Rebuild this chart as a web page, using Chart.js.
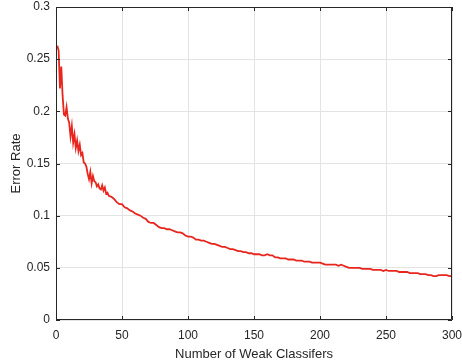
<!DOCTYPE html>
<html>
<head>
<meta charset="utf-8">
<script src="https://cdn.jsdelivr.net/npm/chart.js@4/dist/chart.umd.min.js"></script>
<style>
html,body{margin:0;padding:0;background:#fff;}
#wrap{width:462px;height:362px;}
</style>
</head>
<body>
<div id="wrap"><canvas id="c" width="462" height="362"></canvas></div>
<script>
const weakClassifiers = [1,2,3,4,5,6,7,8,9,10,11,12,13,14,15,16,17,18,19,20,21,22,23,24,25,26,27,28,29,30,31,32,33,34,35,36,37,38,39,40,
42,44,46,48,50,52,54,56,58,60,62,64,66,68,70,72,74,76,78,80,82,84,86,88,90,92,94,96,98,100,
102,104,106,108,110,112,114,116,118,120,122,124,126,128,130,132,134,136,138,140,142,144,146,148,150,
152,154,156,158,160,162,164,166,168,170,172,174,176,178,180,182,184,186,188,190,192,194,196,198,200,
202,204,206,208,210,212,214,216,218,220,222,224,226,228,230,232,234,236,238,240,242,244,246,248,250,
252,254,256,258,260,262,264,266,268,270,272,274,276,278,280,282,284,286,288,290,292,294,296,298,300];
const errorRate = [0.263,0.258,0.222,0.243,0.215,0.197,0.196,0.204,0.193,0.189,0.176,0.186,0.170,0.178,0.165,0.172,0.162,0.168,0.158,0.160,
0.151,0.150,0.147,0.140,0.135,0.142,0.131,0.138,0.133,0.132,0.128,0.130,0.126,0.125,0.129,0.124,0.127,0.121,0.122,0.119,
0.118,0.116,0.113,0.111,0.111,0.108,0.107,0.105,0.104,0.102,0.101,0.100,0.098,0.097,0.094,0.093,0.093,0.091,0.089,0.088,
0.088,0.087,0.087,0.086,0.085,0.084,0.084,0.083,0.081,0.080,
0.080,0.079,0.077,0.077,0.076,0.076,0.075,0.074,0.073,0.073,0.072,0.071,0.070,0.070,0.069,0.068,0.068,0.067,0.066,0.066,0.065,0.065,0.064,0.064,0.063,
0.063,0.063,0.062,0.062,0.063,0.062,0.062,0.060,0.060,0.059,0.059,0.059,0.058,0.058,0.058,0.057,0.057,0.057,0.056,0.056,0.056,0.055,0.055,0.055,0.055,
0.054,0.053,0.053,0.053,0.053,0.053,0.052,0.053,0.052,0.051,0.050,0.050,0.050,0.050,0.050,0.049,0.049,0.049,0.049,0.048,0.048,0.048,0.048,0.047,0.048,
0.047,0.047,0.047,0.047,0.046,0.046,0.046,0.046,0.045,0.045,0.045,0.045,0.044,0.044,0.044,0.043,0.043,0.042,0.042,0.043,0.043,0.043,0.043,0.042,0.042];
const xTickStep = 50;
const yTickStep = 0.05;

const points = weakClassifiers.map((x, i) => ({x: x, y: errorRate[i]}));
const FONT = "'Liberation Sans', Arial, Helvetica, sans-serif";
const AX = '#262626';

const boxTicks = {
  id: 'boxTicks',
  afterDraw(chart) {
    const {ctx, chartArea: a, scales} = chart;
    ctx.save();
    ctx.strokeStyle = AX;
    ctx.lineWidth = 1;
    ctx.beginPath();
    ctx.rect(a.left + 0.5, a.top + 0.5, a.right - a.left - 1, a.bottom - a.top - 1);
    ctx.stroke();
    const L = 4;
    ctx.beginPath();
    scales.x.ticks.forEach(t => {
      const px = Math.round(scales.x.getPixelForValue(t.value)) + 0.5;
      ctx.moveTo(px, a.bottom); ctx.lineTo(px, a.bottom - L);
      ctx.moveTo(px, a.top); ctx.lineTo(px, a.top + L);
    });
    scales.y.ticks.forEach(t => {
      const py = Math.round(scales.y.getPixelForValue(t.value)) + 0.5;
      ctx.moveTo(a.left, py); ctx.lineTo(a.left + L, py);
      ctx.moveTo(a.right, py); ctx.lineTo(a.right - L, py);
    });
    ctx.stroke();
    ctx.restore();
  }
};

new Chart(document.getElementById('c'), {
  type: 'line',
  data: {
    datasets: [{
      data: points,
      borderColor: 'rgb(232,38,30)',
      borderWidth: 1.8,
      pointRadius: 0,
      tension: 0,
      fill: false
    }]
  },
  options: {
    responsive: false,
    animation: false,
    devicePixelRatio: 1,
    layout: {padding: {top: 7, right: 10, left: 0, bottom: 0}},
    plugins: {legend: {display: false}, tooltip: {enabled: false}},
    scales: {
      x: {
        type: 'linear', min: 0, max: 300,
        ticks: {stepSize: xTickStep, color: AX, padding: 8, maxRotation: 0,
          font: {family: FONT, size: 12}},
        grid: {color: '#e3e3e3', lineWidth: 1, drawTicks: false},
        border: {display: false},
        title: {display: true, text: 'Number of Weak Classifers', color: AX,
          font: {family: FONT, size: 13}, padding: {top: 0, bottom: 0}},
        afterFit(s) { s.height = 42; s.paddingLeft = 0; s.paddingRight = 0; }
      },
      y: {
        min: 0, max: 0.3,
        ticks: {stepSize: yTickStep, color: AX, padding: 6,
          font: {family: FONT, size: 12},
          callback: v => String(+Number(v).toFixed(2))},
        grid: {color: '#e3e3e3', lineWidth: 1, drawTicks: false},
        border: {display: false},
        title: {display: true, text: 'Error Rate', color: AX,
          font: {family: FONT, size: 13}, padding: {top: 9, bottom: 0}},
        afterFit(s) { s.width = 56; s.paddingTop = 0; s.paddingBottom = 0; }
      }
    }
  },
  plugins: [boxTicks]
});
</script>
</body>
</html>
